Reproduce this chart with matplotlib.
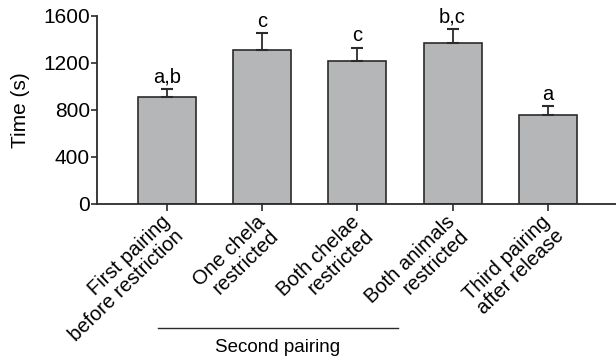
import matplotlib
matplotlib.use("Agg")
import matplotlib.pyplot as plt

plt.rcParams['font.family'] = ['Liberation Sans', 'DejaVu Sans']

groups = ["First pairing\nbefore restriction", "One chela\nrestricted",
          "Both chelae\nrestricted", "Both animals\nrestricted",
          "Third pairing\nafter release"]
means = [910, 1310, 1215, 1365, 755]
sems = [70, 140, 115, 120, 75]
letters = ["a,b", "c", "c", "b,c", "a"]

fig = plt.figure(figsize=(6.16, 3.64), dpi=100)
ax = fig.add_axes([0.1575, 0.4396, 0.8425, 0.517])

x = list(range(len(groups)))
ax.bar(x, means, width=0.61, color="#b4b6b8", edgecolor="#2b2b2b", linewidth=1.2,
       yerr=[[0] * len(sems), sems], error_kw=dict(ecolor="#2b2b2b", elinewidth=1.3,
                                               capsize=4, capthick=1.5))
for xi, m, s, lab in zip(x, means, sems, letters):
    ax.text(xi, m + s + 20, lab, ha="center", va="bottom", fontsize=14.5)

ax.set_xlim(-0.74, 4.72)
ax.set_ylim(0, 1600)
ax.set_yticks([0, 400, 800, 1200, 1600])
ax.set_xticks(x)
ax.set_xticklabels([])
# slanted group names, set a little left of each tick
for xi, name in zip(x, groups):
    ax.annotate(name, xy=(xi, 0), xycoords=ax.get_xaxis_transform(),
                xytext=(-5, -6), textcoords="offset points",
                rotation=44, ha="right", va="top", rotation_mode="anchor",
                multialignment="right", linespacing=1.05, fontsize=14.5,
                annotation_clip=False)

ax.set_ylabel("Time (s)", fontsize=15)
ax.yaxis.set_label_coords(-0.130, 0.5)
ax.tick_params(axis="y", labelsize=15, length=4, width=1.2, color="#2b2b2b", pad=1)
ax.tick_params(axis="x", length=5, width=1.2, color="#2b2b2b")
for side in ("top", "right"):
    ax.spines[side].set_visible(False)
for side in ("left", "bottom"):
    ax.spines[side].set_linewidth(1.3)
    ax.spines[side].set_color("#2b2b2b")

# bracket line grouping the second-pairing conditions
fig.add_artist(plt.Line2D([158 / 616, 398 / 616], [1 - 328 / 364, 1 - 328 / 364],
                          color="#2b2b2b", linewidth=1.0))
fig.text(278 / 616, 1 - 348 / 364, "Second pairing", ha="center", va="center", fontsize=13.5)

fig.savefig("out.png", dpi=100)
